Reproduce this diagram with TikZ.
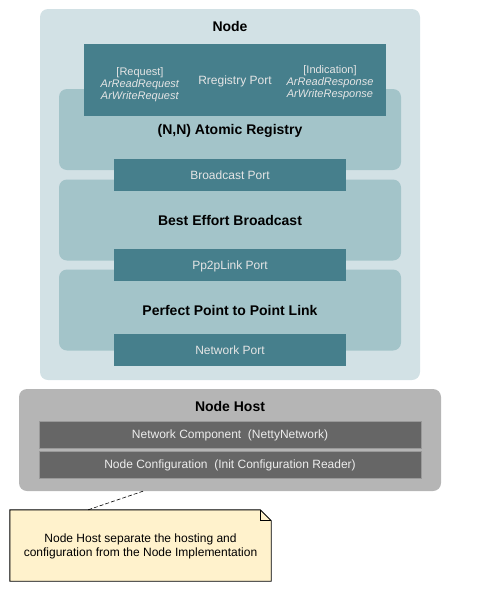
\documentclass[tikz,border=0pt]{standalone}
\usepackage{fontspec}
\setmainfont{Liberation Sans}
\usetikzlibrary{calc}
\definecolor{nodebg}{HTML}{D2E1E5}
\definecolor{layerbg}{HTML}{A3C4C9}
\definecolor{portbg}{HTML}{467F8C}
\definecolor{hostbg}{HTML}{B5B5B5}
\definecolor{barbg}{HTML}{666666}
\definecolor{notebg}{HTML}{FFF2CC}
\tikzset{
	outerbox/.style={fill=#1, rounded corners=8pt, inner sep=0pt},
	layerbox/.style={fill=layerbg, rounded corners=8pt, minimum width=342pt, minimum height=81pt, inner sep=0pt, text height=10pt, text depth=0pt, font=\fontsize{14}{16}\selectfont\bfseries},
	portbox/.style={fill=portbg, text=white!90!black, minimum width=232pt, minimum height=32pt, inner sep=0pt, text height=8.6pt, text depth=0pt, font=\fontsize{12}{14}\selectfont},
	hostbar/.style={fill=barbg, draw=gray!80, line width=0.6pt, text=white!93!black, minimum width=382pt, minimum height=27pt, inner sep=0pt, text height=8.6pt, text depth=0pt, font=\fontsize{12}{14}\selectfont},
	titletext/.style={text height=10pt, text depth=0pt, font=\fontsize{14}{16}\selectfont\bfseries},
	eventtext/.style={text=white!90!black, align=center, font=\fontsize{11}{12}\selectfont},
	notebox/.style={fill=notebg, draw=black, line width=0.9pt},
	notetext/.style={align=center, font=\fontsize{12}{14}\selectfont},
}
\begin{document}
\begin{tikzpicture}[x=1pt, y=-1pt]
		%%%%% START %%%%%
		\useasboundingbox (0,0) rectangle (496,600);
		
		% node with its layers
		\node[outerbox=nodebg, minimum width=380pt, minimum height=371pt] (node) at (230,194.5) {};
		\node[titletext] (nodetitle) at (230,26) {Node};
		
		\node[layerbox] (atomic) at (230,129.5) {(N,N) Atomic Registry};
		\node[layerbox] (beb) at (230,220) {Best Effort Broadcast};
		\node[layerbox] (pp2p) at (230,310) {Perfect Point to Point Link};
		
		% ports
		\node[portbox, minimum width=302pt, minimum height=72pt] (regport) at (235,80) {Rregistry Port};
		\node[eventtext] (requests) at (140,84.5) {[Request]\\\textit{ArReadRequest}\\\textit{ArWriteRequest}};
		\node[eventtext] (indications) at (330,82.5) {[Indication]\\\textit{ArReadResponse}\\\textit{ArWriteResponse}};
		
		\node[portbox] (bcastport) at (230,175) {Broadcast Port};
		\node[portbox] (linkport) at (230,265) {Pp2pLink Port};
		\node[portbox] (netport) at (230,350) {Network Port};
		
		% node host
		\node[outerbox=hostbg, minimum width=422pt, minimum height=102pt] (host) at (230,440) {};
		\node[titletext] (hosttitle) at (230,406) {Node Host};
		\node[hostbar] (network) at (230,434.5) {Network Component\ \ (NettyNetwork)};
		\node[hostbar] (config) at (230,464.5) {Node Configuration\ \ (Init Configuration Reader)};
		
		% note
		\node[minimum width=261pt, minimum height=71pt, inner sep=0pt] (note) at (140.5,545.5) {};
		\draw[notebox] (note.north west) -- ([xshift=-11pt]note.north east) -- ([yshift=-11pt]note.north east) -- (note.south east) -- (note.south west) -- cycle;
		\draw[line width=0.9pt] ([xshift=-11pt]note.north east) |- ([yshift=-11pt]note.north east);
		\node[notetext] (notetext) at ([yshift=-1pt]note.center) {Node Host separate the hosting and\\configuration from the Node Implementation};
		
		\draw[dash pattern=on 4pt off 2pt, line width=0.6pt] ($(note.north west)!0.3!(note.north east)$) -- ($(host.south west)!0.294!(host.south east)$);
		
		%%%%% END %%%%%
\end{tikzpicture}
\end{document}
